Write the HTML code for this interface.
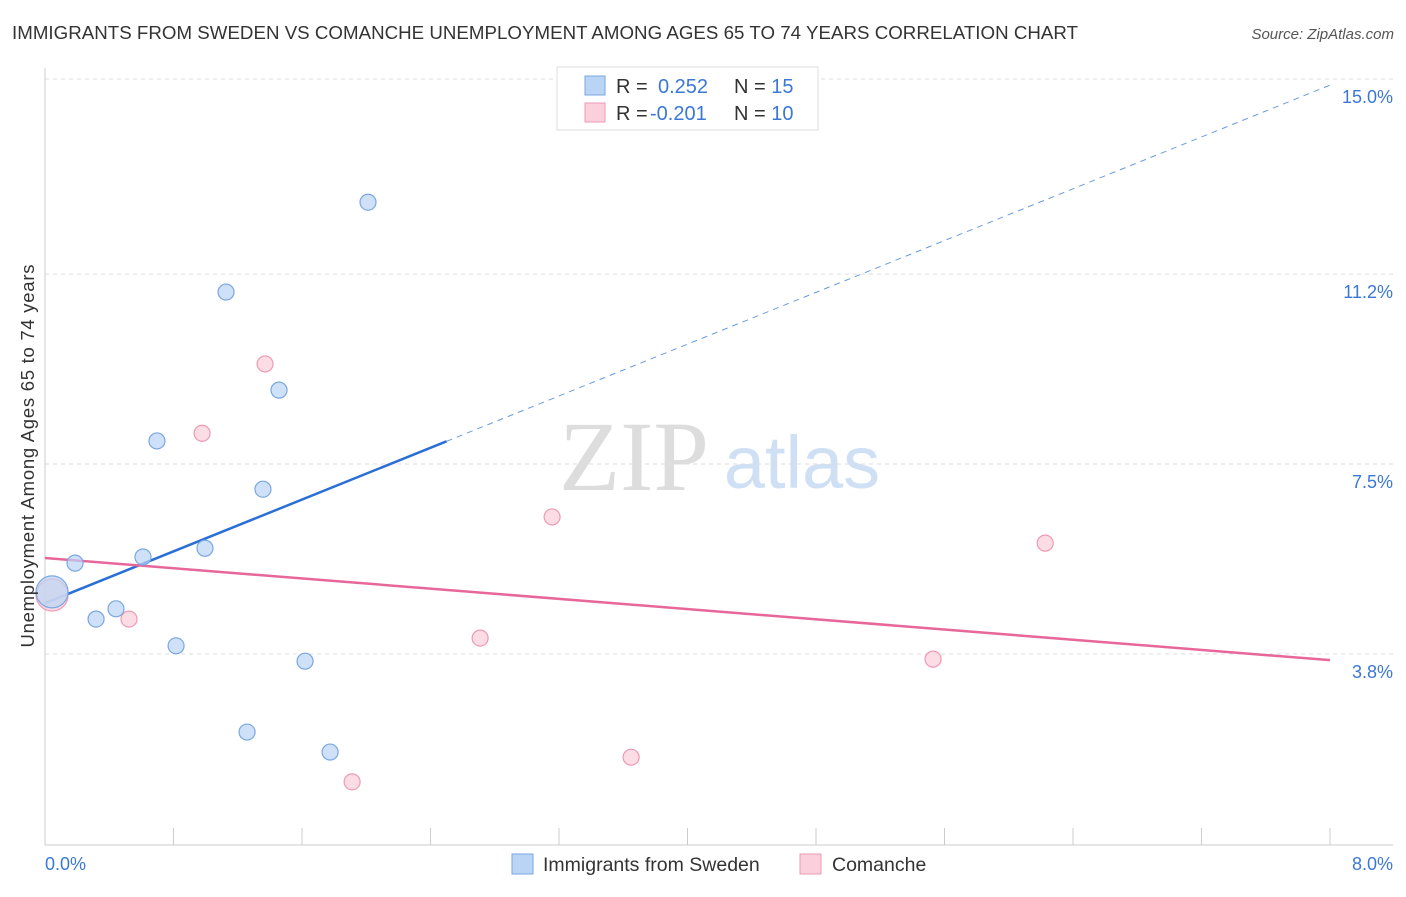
<!DOCTYPE html>
<html><head><meta charset="utf-8"><style>
body{margin:0;background:#fff;font-family:"Liberation Sans",sans-serif;}
</style></head><body>
<svg width="1406" height="892" xmlns="http://www.w3.org/2000/svg" font-family="Liberation Sans, sans-serif">
<text x="12" y="39" font-size="18.7" fill="#333" textLength="1066">IMMIGRANTS FROM SWEDEN VS COMANCHE UNEMPLOYMENT AMONG AGES 65 TO 74 YEARS CORRELATION CHART</text>
<text x="1394" y="39" font-size="15" fill="#555" font-style="italic" text-anchor="end">Source: ZipAtlas.com</text>
<text x="634" y="490" font-size="100" fill="#ddd" font-family="Liberation Serif, serif" text-anchor="middle">ZIP</text>
<text x="802" y="488" font-size="74" fill="#cfe0f5" text-anchor="middle">atlas</text>
<g id="grid"></g><g id="axes"></g><g id="trends"></g><g id="points"></g>
<text transform="translate(34,456) rotate(-90)" font-size="18.5" fill="#333" text-anchor="middle" textLength="383">Unemployment Among Ages 65 to 74 years</text>
<text x="45" y="870" font-size="18" fill="#3b78d6">0.0%</text>
<text x="1393" y="870" font-size="18" fill="#3b78d6" text-anchor="end">8.0%</text>
<g>
<rect x="557" y="67" width="261" height="63" fill="#fff" stroke="#ddd"/>
<rect x="585" y="76" width="20" height="19" fill="#bad4f5" stroke="#7aa7e0"/>
<rect x="585" y="103" width="20" height="19" fill="#fbd0dc" stroke="#ef9ab4"/>
<text x="616" y="93" font-size="20" fill="#333">R = <tspan fill="#3b78d6" x="658">0.252</tspan><tspan x="734" fill="#333">N = </tspan><tspan fill="#3b78d6">15</tspan></text>
<text x="616" y="120" font-size="20" fill="#333">R = <tspan fill="#3b78d6" x="650">-0.201</tspan><tspan x="734" fill="#333">N = </tspan><tspan fill="#3b78d6">10</tspan></text>
</g>
<g>
<rect x="512" y="854" width="21" height="20" fill="#bad4f5" stroke="#7aa7e0"/>
<text x="543" y="871" font-size="19.5" fill="#333">Immigrants from Sweden</text>
<rect x="800" y="854" width="21" height="20" fill="#fbd0dc" stroke="#ef9ab4"/>
<text x="832" y="871" font-size="19.5" fill="#333">Comanche</text>
</g>
</svg>
<script>
const yTicks=[3.8,7.5,11.2,15.0];
const yTickLabels=["3.8%","7.5%","11.2%","15.0%"];
const xTicks=[0,0.8,1.6,2.4,3.2,4.0,4.8,5.6,6.4,7.2,8.0];
const swedenX=[0.044,0.187,0.318,0.442,0.610,0.697,0.816,0.996,1.127,1.258,1.357,1.457,1.619,1.775,2.011];
const swedenY=[5.01,5.57,4.48,4.68,5.69,7.95,3.96,5.86,10.85,2.28,7.01,8.94,3.66,1.89,12.60];
const comancheX=[0.044,0.523,0.978,1.370,1.912,2.709,3.157,3.649,5.529,6.227];
const comancheY=[4.95,4.48,8.10,9.45,1.31,4.11,6.47,1.79,3.70,5.96];
const swedenTrend=[4.79,14.88];
const comancheTrend=[5.67,3.68];
const NS="http://www.w3.org/2000/svg";
const X=v=>45+v*160.625, Y=v=>79+(15-v)*51.34;
function mk(t,a,p){const e=document.createElementNS(NS,t);for(const k in a)e.setAttribute(k,a[k]);p.appendChild(e);return e;}
const grid=document.getElementById('grid'),axes=document.getElementById('axes'),tr=document.getElementById('trends'),pts=document.getElementById('points');
yTicks.forEach((v,i)=>{
 const l=mk('line',{x1:45,x2:1393,y1:Y(v),y2:Y(v),stroke:'#ddd','stroke-dasharray':'4,4'},grid);
 
 
 const t=mk('text',{x:1393,y:Y(v)+24,'font-size':18,fill:'#3b78d6','text-anchor':'end'},grid);
 t.textContent=yTickLabels[i];
 
 
});
const la=mk('line',{x1:45,x2:45,y1:68,y2:845,stroke:'#ccc'},axes);


const lb=mk('line',{x1:45,x2:1393,y1:845,y2:845,stroke:'#ccc'},axes);


xTicks.forEach(v=>{const t=mk('line',{x1:X(v),x2:X(v),y1:828,y2:845,stroke:'#ccc'},axes);
 
 });
const sl=(swedenTrend[1]-swedenTrend[0])/8;
const t1=mk('line',{x1:X(0),y1:Y(swedenTrend[0]),x2:X(2.5),y2:Y(swedenTrend[0]+sl*2.5),stroke:'#2a6fd6','stroke-width':2.5},tr);


const t2=mk('line',{x1:X(2.5),y1:Y(swedenTrend[0]+sl*2.5),x2:X(8),y2:Y(swedenTrend[1]),stroke:'#6a9be0','stroke-width':1,'stroke-dasharray':'6,5'},tr);


const t3=mk('line',{x1:X(0),y1:Y(comancheTrend[0]),x2:X(8),y2:Y(comancheTrend[1]),stroke:'#e8679a','stroke-width':2.5},tr);


comancheX.forEach((x,i)=>{const c=mk('circle',{cx:X(x),cy:Y(comancheY[i]),r:i==0?16:8,fill:'#fbd0dc',stroke:'#ef9ab4','stroke-width':1.2,'fill-opacity':0.75},pts);
 
 });
swedenX.forEach((x,i)=>{const c=mk('circle',{cx:X(x),cy:Y(swedenY[i]),r:i==0?16:8,fill:'#bad4f5',stroke:'#7aa7e0','stroke-width':1.2,'fill-opacity':0.7},pts);
 
 });
</script>
</body></html>
